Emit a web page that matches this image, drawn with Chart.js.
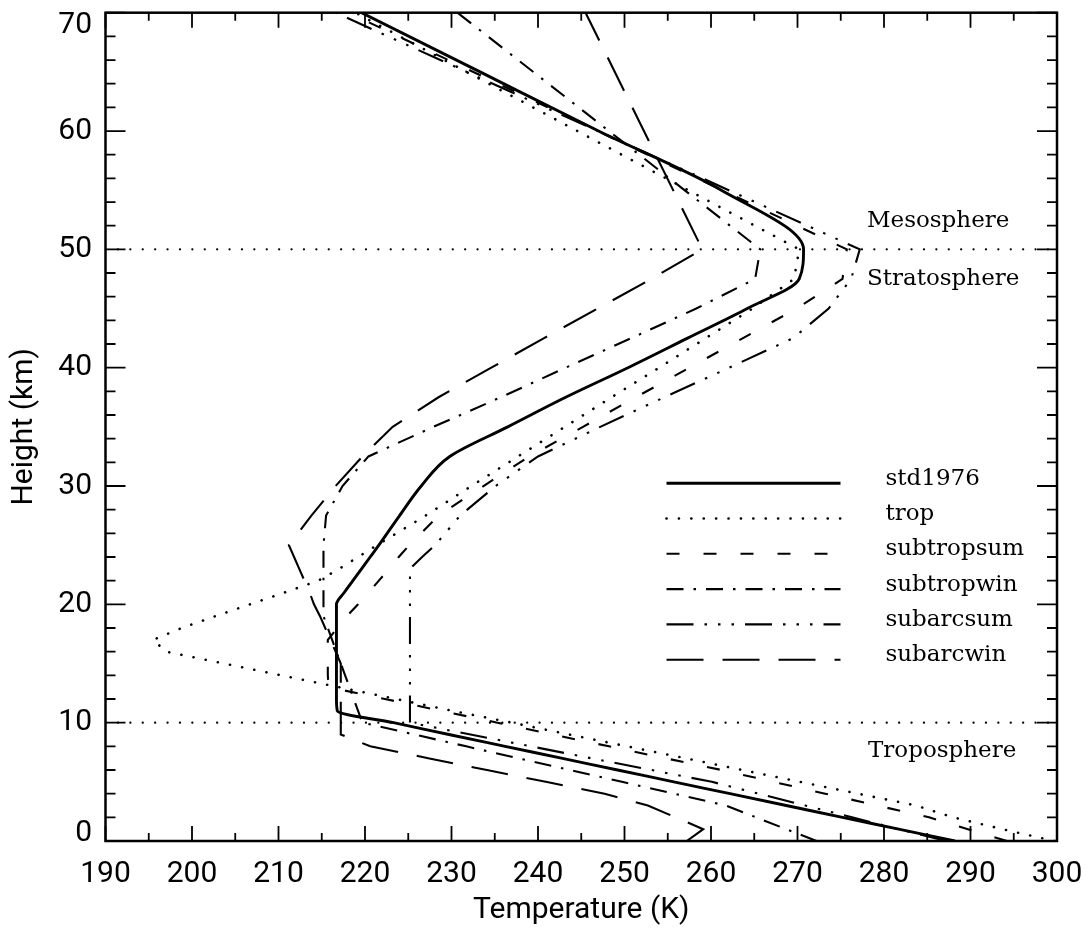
<!DOCTYPE html>
<html>
<head>
<meta charset="utf-8">
<title>Temperature profiles</title>
<script src="https://cdn.jsdelivr.net/npm/chart.js@4.4.1/dist/chart.umd.min.js"></script>
<style>
  html, body { margin: 0; padding: 0; background: #fff; }
</style>
</head>
<body>
<canvas id="chart" width="1091" height="929"></canvas>
<script>
// heights (km), shared by all profiles
const heights = [0, 1, 2, 3, 4, 5, 6, 7, 8, 9, 10, 11, 12, 13, 14, 15, 16, 17, 18, 19,
  20, 21, 22, 23, 24, 25, 27.5, 30, 32.5, 35, 37.5, 40, 42.5, 45, 47.5, 50, 55, 60, 65, 70];

// temperatures (K), null = no point at that height
const std1976 = [288.2, 281.7, 275.2, 268.7, 262.2, 255.7, 249.2, 242.7, 236.2, 229.7,
  223.3, 216.8, 216.7, 216.7, 216.7, 216.7, 216.7, 216.7, 216.7, 216.7,
  216.7, 217.6, 218.6, 219.6, 220.6, 221.6, 224.0, 226.5, 229.8, 236.5,
  243.2, 250.4, 257.3, 264.2, 270.2, 270.7, 261.2, 247.0, 233.3, 219.6];
const trop = [299.7, 293.7, 288.0, 283.7, 277.0, 270.3, 263.6, 257.0, 250.3, 243.6,
  237.0, 230.1, 223.6, 217.0, 210.3, 203.7, 197.0, 195.5, 198.8, 202.7,
  206.7, 210.7, 214.6, 217.0, 219.2, 221.4, 227.0, 232.3, 237.7, 243.1,
  248.5, 254.0, 259.4, 264.8, 269.6, 270.2, null, null, null, 218.9];
const subtropsum = [294.2, 289.7, 285.2, 279.2, 273.2, 267.2, 261.2, 254.7, 248.2, 241.7,
  235.3, 228.8, 222.3, 215.8, 215.7, 215.7, 215.7, 215.7, 216.8, 217.9,
  219.2, 220.4, 221.6, 222.8, 223.9, 225.1, 228.5, 233.7, 239.0, 245.2,
  251.3, 257.5, 263.7, 269.9, 275.2, 275.7, null, null, null, 218.1];
const subtropwin = [272.2, 268.7, 265.2, 261.7, 255.7, 249.7, 243.7, 237.7, 231.7, 225.7,
  219.7, 219.2, 218.7, 218.2, 217.7, 217.2, 216.7, 216.2, 215.7, 215.2,
  215.2, 215.2, 215.2, 215.2, 215.2, 215.2, 215.5, 217.4, 220.4, 227.9,
  235.7, 243.2, 250.8, 258.3, 265.1, 265.7, null, null, null, 230.7];
const subarcsum = [287.2, 281.7, 276.3, 270.9, 265.5, 260.1, 253.1, 246.1, 239.2, 232.2,
  225.2, 225.2, 225.2, 225.2, 225.2, 225.2, 225.2, 225.2, 225.2, 225.2,
  225.2, 225.2, 225.2, 225.2, 226.6, 228.1, 231.0, 235.1, 240.0, 247.2,
  254.6, 262.1, 269.5, 273.6, 276.2, 277.2, null, null, null, 216.6];
const subarcwin = [257.2, 259.1, 255.9, 252.7, 247.7, 240.9, 234.1, 227.3, 220.6, 217.2,
  217.2, 217.2, 217.2, 217.2, 217.2, 217.2, 216.6, 216.0, 215.4, 214.8,
  214.1, 213.6, 213.0, 212.4, 211.8, 211.2, 213.8, 216.6, 219.7, 223.2,
  228.5, 234.6, 240.7, 246.9, 253.1, 259.0, null, null, null, 245.5];

// layer boundaries (km) and names
const layerBounds = [10, 50];
const layerNames = ["Mesosphere", "Stratosphere", "Troposphere"];

// axis ranges
const tMin = 190, tMax = 300, tStep = 10;
const hMin = 0, hMax = 70, hStep = 10;

const tickFont = { family: "Roboto", size: 30 };
const serif = '23px "DejaVu Serif"';

function profile(temps) {
  return heights.map((h, i) => ({ x: temps[i], y: h })).filter(p => p.x !== null);
}

function series(label, temps, width, dash, cap) {
  return {
    label: label,
    data: profile(temps),
    showLine: true,
    borderColor: "#000",
    borderWidth: width,
    borderDash: dash,
    borderCapStyle: cap || "butt",
    pointRadius: 0,
    tension: 0,
    inKey: true
  };
}

const stdLine = series("std1976", std1976, 2.9, []);
// the standard profile is drawn as a smooth curve along height
stdLine.indexAxis = "y";
stdLine.cubicInterpolationMode = "monotone";

const datasets = [
  stdLine,
  series("trop", trop, 2.6, [0.1, 12.3], "round"),
  series("subtropsum", subtropsum, 2.1, [13, 24]),
  series("subtropwin", subtropwin, 2.1, [17, 10, 2.5, 10]),
  series("subarcsum", subarcsum, 2.1, [27, 11, 2.5, 11, 2.5, 11, 2.5, 11]),
  series("subarcwin", subarcwin, 2.1, [37, 19])
];

// dotted layer boundaries across the whole plot
layerBounds.forEach(h => {
  datasets.push({
    label: "",
    data: [{ x: tMin, y: h }, { x: tMax, y: h }],
    showLine: true,
    borderColor: "#000",
    borderWidth: 2.2,
    borderDash: [0.1, 12.3],
    borderCapStyle: "round",
    pointRadius: 0
  });
});

// frame with inward ticks on all four sides, end labels of the height axis
const frameTicks = {
  id: "frameTicks",
  afterDatasetsDraw(chart) {
    const { ctx, chartArea: a, scales: { x, y } } = chart;
    ctx.save();
    ctx.strokeStyle = "#000";
    ctx.lineWidth = 1.8;
    ctx.beginPath();
    for (let t = tMin; t <= tMax; t += tStep / 2) {
      const px = x.getPixelForValue(t);
      const len = t % tStep === 0 ? 15 : 8;
      ctx.moveTo(px, a.bottom); ctx.lineTo(px, a.bottom - len);
      ctx.moveTo(px, a.top); ctx.lineTo(px, a.top + len);
    }
    for (let h = hMin; h <= hMax; h += hStep / 5) {
      const py = y.getPixelForValue(h);
      const len = h % hStep === 0 ? 20 : 10;
      ctx.moveTo(a.left, py); ctx.lineTo(a.left + len, py);
      ctx.moveTo(a.right, py); ctx.lineTo(a.right - len, py);
    }
    ctx.stroke();
    ctx.lineWidth = 2.5;
    ctx.strokeRect(a.left, a.top, a.right - a.left, a.bottom - a.top);

    // the first and last height labels sit just inside the frame
    ctx.font = tickFont.size + "px " + tickFont.family;
    ctx.fillStyle = "#000";
    ctx.textAlign = "right";
    ctx.textBaseline = "middle";
    ctx.fillText(String(hMax), a.left - 13.5, y.getPixelForValue(hMax) + 13);
    ctx.fillText(String(hMin), a.left - 13.5, y.getPixelForValue(hMin) - 8);
    ctx.restore();
  }
};

// layer names next to the boundaries
const layerText = {
  id: "layerText",
  afterDatasetsDraw(chart) {
    const { ctx, chartArea: a, scales: { y } } = chart;
    const tx = a.right - 190;
    ctx.save();
    ctx.font = serif;
    ctx.fillStyle = "#000";
    ctx.textBaseline = "alphabetic";
    ctx.fillText(layerNames[0], tx, y.getPixelForValue(layerBounds[1]) - 22);
    ctx.fillText(layerNames[1], tx, y.getPixelForValue(layerBounds[1]) + 36);
    ctx.fillText(layerNames[2], tx + 1, y.getPixelForValue(layerBounds[0]) + 34);
    ctx.restore();
  }
};

// line key inside the plot
const lineKey = {
  id: "lineKey",
  afterDatasetsDraw(chart) {
    const { ctx, chartArea: a } = chart;
    const x0 = a.left + 561, x1 = a.left + 735, xt = a.left + 780;
    let row = 0;
    ctx.save();
    ctx.font = serif;
    ctx.fillStyle = "#000";
    ctx.strokeStyle = "#000";
    chart.data.datasets.forEach(ds => {
      if (!ds.inKey) return;
      const yy = a.top + 470.5 + row * 35.3;
      ctx.lineWidth = ds.borderWidth;
      ctx.lineCap = ds.borderCapStyle;
      ctx.setLineDash(ds.borderDash);
      ctx.beginPath();
      ctx.moveTo(x0, yy);
      ctx.lineTo(x1, yy);
      ctx.stroke();
      ctx.setLineDash([]);
      ctx.fillText(ds.label, xt, yy + 1.5);
      row++;
    });
    ctx.restore();
  }
};

const ctx = document.getElementById("chart").getContext("2d");
const chart = new Chart(ctx, {
  type: "scatter",
  data: { datasets: datasets },
  options: {
    responsive: false,
    animation: false,
    layout: { padding: { top: 12.7, right: 34, left: 0, bottom: 0 } },
    plugins: { legend: { display: false }, tooltip: { enabled: false } },
    scales: {
      x: {
        type: "linear",
        min: tMin,
        max: tMax,
        grid: { display: false, drawTicks: false },
        border: { display: false },
        ticks: { stepSize: tStep, autoSkip: false, maxRotation: 0, padding: 15, color: "#000", font: tickFont },
        title: { display: true, text: "Temperature (K)", color: "#000", font: tickFont, padding: { top: 0, bottom: 1 } },
        afterFit(s) { s.height = 88; s.paddingLeft = 0; s.paddingRight = 0; }
      },
      y: {
        type: "linear",
        min: hMin,
        max: hMax,
        grid: { display: false, drawTicks: false },
        border: { display: false },
        ticks: {
          stepSize: hStep, padding: 13.5, color: "#000", font: tickFont,
          callback: v => (v === hMin || v === hMax) ? "" : v
        },
        title: { display: true, text: "Height (km)", color: "#000", font: tickFont, padding: { top: 6, bottom: 0 } },
        afterFit(s) { s.width = 105.5; s.paddingTop = 0; s.paddingBottom = 0; }
      }
    }
  },
  plugins: [frameTicks, layerText, lineKey]
});
</script>
</body>
</html>
